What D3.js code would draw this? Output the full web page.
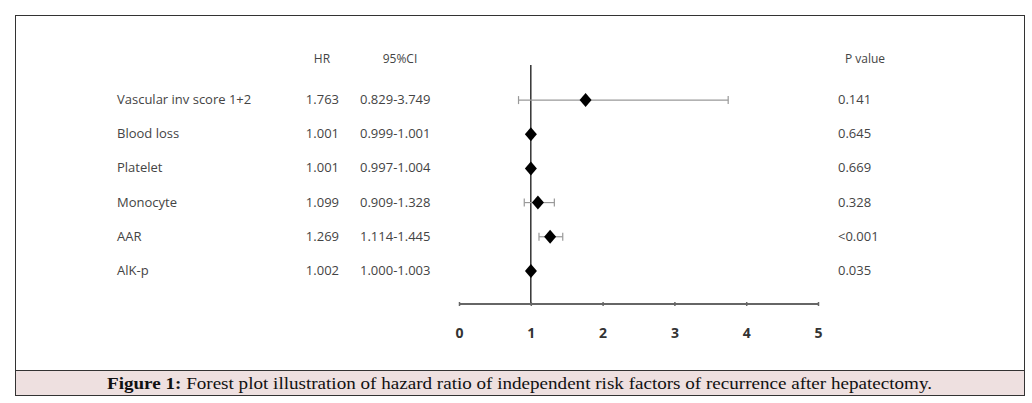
<!DOCTYPE html>
<html><head><meta charset="utf-8">
<script src="https://cdn.jsdelivr.net/npm/d3@7"></script>
<style>body{margin:0;background:#fff}</style></head>
<body><div id="chart"></div>
<script>
// Chart data
var factors = ["Vascular inv score 1+2", "Blood loss", "Platelet", "Monocyte", "AAR", "AlK-p"];
var hr = [1.763, 1.001, 1.001, 1.099, 1.269, 1.002];
var ciLow = [0.829, 0.999, 0.997, 0.909, 1.114, 1.000];
var ciHigh = [3.749, 1.001, 1.004, 1.328, 1.445, 1.003];
var ciText = ["0.829-3.749", "0.999-1.001", "0.997-1.004", "0.909-1.328", "1.114-1.445", "1.000-1.003"];
var pValues = ["0.141", "0.645", "0.669", "0.328", "<0.001", "0.035"];
var xTicks = [0, 1, 2, 3, 4, 5];

var svg = d3.select("#chart").append("svg").attr("width", 1032).attr("height", 403);
var sans = "Open Sans, Lato, sans-serif";

// Outer frame and caption box
svg.append("rect").attr("x", 15.5).attr("y", 15.5).attr("width", 1009).attr("height", 380)
    .attr("fill", "none").attr("stroke", "#333");
svg.append("rect").attr("x", 15.5).attr("y", 370.5).attr("width", 1009).attr("height", 25)
    .attr("fill", "#eee0e0").attr("stroke", "#333");
var cap = svg.append("text").attr("x", 107).attr("y", 389)
    .attr("textLength", 825).attr("lengthAdjust", "spacingAndGlyphs")
    .attr("font-family", "Liberation Serif, serif").attr("font-size", 17).attr("fill", "#111");
cap.append("tspan").attr("font-weight", "bold").text("Figure 1:");
cap.append("tspan").text(" Forest plot illustration of hazard ratio of independent risk factors of recurrence after hepatectomy.");

var x = d3.scaleLinear().domain([0, 5]).range([459, 818]);
var y = d3.scaleBand().domain(factors).range([83, 288]);
var cy = d => y(d) + y.bandwidth() / 2;
var axisY = 304;

// Headers
var hdr = svg.append("g").attr("font-family", sans).attr("font-size", 12).attr("fill", "#444");
hdr.append("text").attr("x", 322).attr("y", 63).attr("text-anchor", "middle").text("HR");
hdr.append("text").attr("x", 400).attr("y", 63).attr("text-anchor", "middle").text("95%CI");
hdr.append("text").attr("x", 865).attr("y", 63).attr("text-anchor", "middle").text("P value");

var rows = svg.append("g").attr("font-family", sans).attr("font-size", 13).attr("fill", "#444");
factors.forEach(function(f, i) {
    var yy = cy(f) + 4;
    rows.append("text").attr("x", 117).attr("y", yy).text(f);
    rows.append("text").attr("x", 339).attr("y", yy).attr("text-anchor", "end").text(hr[i].toFixed(3));
    rows.append("text").attr("x", 360).attr("y", yy).text(ciText[i]);
    rows.append("text").attr("x", 838).attr("y", yy).text(pValues[i]);
});

// Reference line at HR = 1
svg.append("line").attr("x1", x(1)).attr("x2", x(1)).attr("y1", 65).attr("y2", axisY)
    .attr("stroke", "#333").attr("stroke-width", 1.5);

// Axis
var axis = d3.axisBottom(x).tickValues(xTicks).tickFormat(d3.format("d")).tickSize(4).tickPadding(22);
var ag = svg.append("g").attr("transform", "translate(0," + (axisY - 2) + ")").call(axis);
ag.select(".domain").attr("stroke", "#666").attr("stroke-width", 2).attr("d", "M459,2H818");
ag.selectAll(".tick line").attr("stroke", "#666").attr("stroke-width", 1.5);
ag.selectAll(".tick text").attr("font-family", sans).attr("font-size", 14)
    .attr("font-weight", "bold").attr("fill", "#333");

// CI whiskers
var ci = svg.append("g").attr("stroke", "#999").attr("stroke-width", 1.2);
factors.forEach(function(f, i) {
    ci.append("line").attr("x1", x(ciLow[i])).attr("x2", x(ciHigh[i])).attr("y1", cy(f)).attr("y2", cy(f));
    [ciLow[i], ciHigh[i]].forEach(function(v) {
        ci.append("line").attr("x1", x(v)).attr("x2", x(v)).attr("y1", cy(f) - 4).attr("y2", cy(f) + 4);
    });
});

// Diamonds
svg.append("g").selectAll("path").data(factors).enter().append("path")
    .attr("d", function(f, i) {
        var px = x(hr[i]), py = cy(f);
        return "M" + px + "," + (py - 7) + "L" + (px + 6) + "," + py + "L" + px + "," + (py + 7) + "L" + (px - 6) + "," + py + "Z";
    })
    .attr("fill", "#000");
</script></body></html>
